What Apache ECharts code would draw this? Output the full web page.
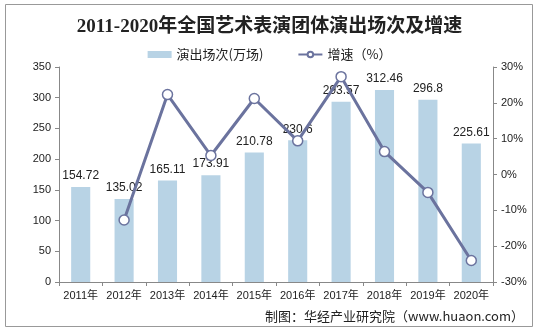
<!DOCTYPE html>
<html><head><meta charset="utf-8">
<script src="https://cdn.jsdelivr.net/npm/echarts@6/dist/echarts.min.js"></script>
<style>html,body{margin:0;padding:0;background:#fff}#c{width:539px;height:335px}</style>
</head><body><div id="c"></div>
<script>
const categories = ['2011年','2012年','2013年','2014年','2015年','2016年','2017年','2018年','2019年','2020年'];
const performances = [154.72,135.02,165.11,173.91,210.78,230.6,293.57,312.46,296.8,225.61];
const growth = [null,-12.7,22.3,5.3,21.2,9.4,27.3,6.4,-5.0,-24.0];
const leftTicks = [0,50,100,150,200,250,300,350];
const rightTicks = [-30,-20,-10,0,10,20,30];

const chart = echarts.init(document.getElementById('c'), null, {renderer:'canvas'});
const font = 'Arial, "Liberation Sans", "Noto Sans CJK SC", sans-serif';
chart.setOption({
  animation:false,
  backgroundColor:'#fff',
  title:{text:'2011-2020年全国艺术表演团体演出场次及增速',left:'center',top:13,
    textStyle:{fontFamily:'"Liberation Serif","Noto Sans CJK SC",serif',fontWeight:'bold',fontSize:19,color:'#222'}},
  legend:{top:43,left:'center',itemGap:34,itemWidth:24,itemHeight:7,
    textStyle:{fontFamily:'"Noto Sans CJK SC",sans-serif',fontSize:13,color:'#222'},
    data:[{name:'演出场次(万场)',icon:'rect'},{name:'增速（%）'}]},
  grid:{left:59,right:46,top:67,bottom:53},
  xAxis:{type:'category',data:categories,boundaryGap:true,
    axisLine:{lineStyle:{color:'#888'}},
    axisTick:{show:true,alignWithLabel:false,length:4,lineStyle:{color:'#888'}},
    axisLabel:{fontFamily:font,fontSize:11,color:'#222',margin:8,interval:0}},
  yAxis:[
    {type:'value',min:0,max:350,interval:50,splitLine:{show:false},
     axisLine:{show:true,lineStyle:{color:'#888'}},axisTick:{show:true,length:4,lineStyle:{color:'#888'}},
     axisLabel:{fontFamily:font,fontSize:11,color:'#222',margin:8}},
    {type:'value',min:-30,max:30,interval:10,splitLine:{show:false},position:'right',
     axisLine:{show:true,lineStyle:{color:'#888'}},axisTick:{show:true,length:4,lineStyle:{color:'#888'}},
     axisLabel:{fontFamily:font,fontSize:11,color:'#222',margin:8,formatter:'{value}%'}}
  ],
  series:[
    {name:'演出场次(万场)',type:'bar',data:performances,barWidth:'44%',
     itemStyle:{color:'#b8d3e5'},
     label:{show:true,position:'top',distance:5,fontFamily:font,fontSize:12,color:'#222'}},
    {name:'增速（%）',type:'line',yAxisIndex:1,data:growth,symbol:'circle',symbolSize:10,
     lineStyle:{color:'#6b739e',width:3},
     itemStyle:{color:'#fff',borderColor:'#6b739e',borderWidth:1.5},z:5}
  ],
  graphic:[
    {type:'rect',shape:{x:5.5,y:4.5,width:527,height:322},style:{fill:null,stroke:'#999',lineWidth:1},silent:true},
    {type:'text',right:15,top:310,style:{text:'制图：华经产业研究院（www.huaon.com）',
      font:'13px "Noto Sans CJK SC", sans-serif',fill:'#222'}}
  ]
});
</script></body></html>
